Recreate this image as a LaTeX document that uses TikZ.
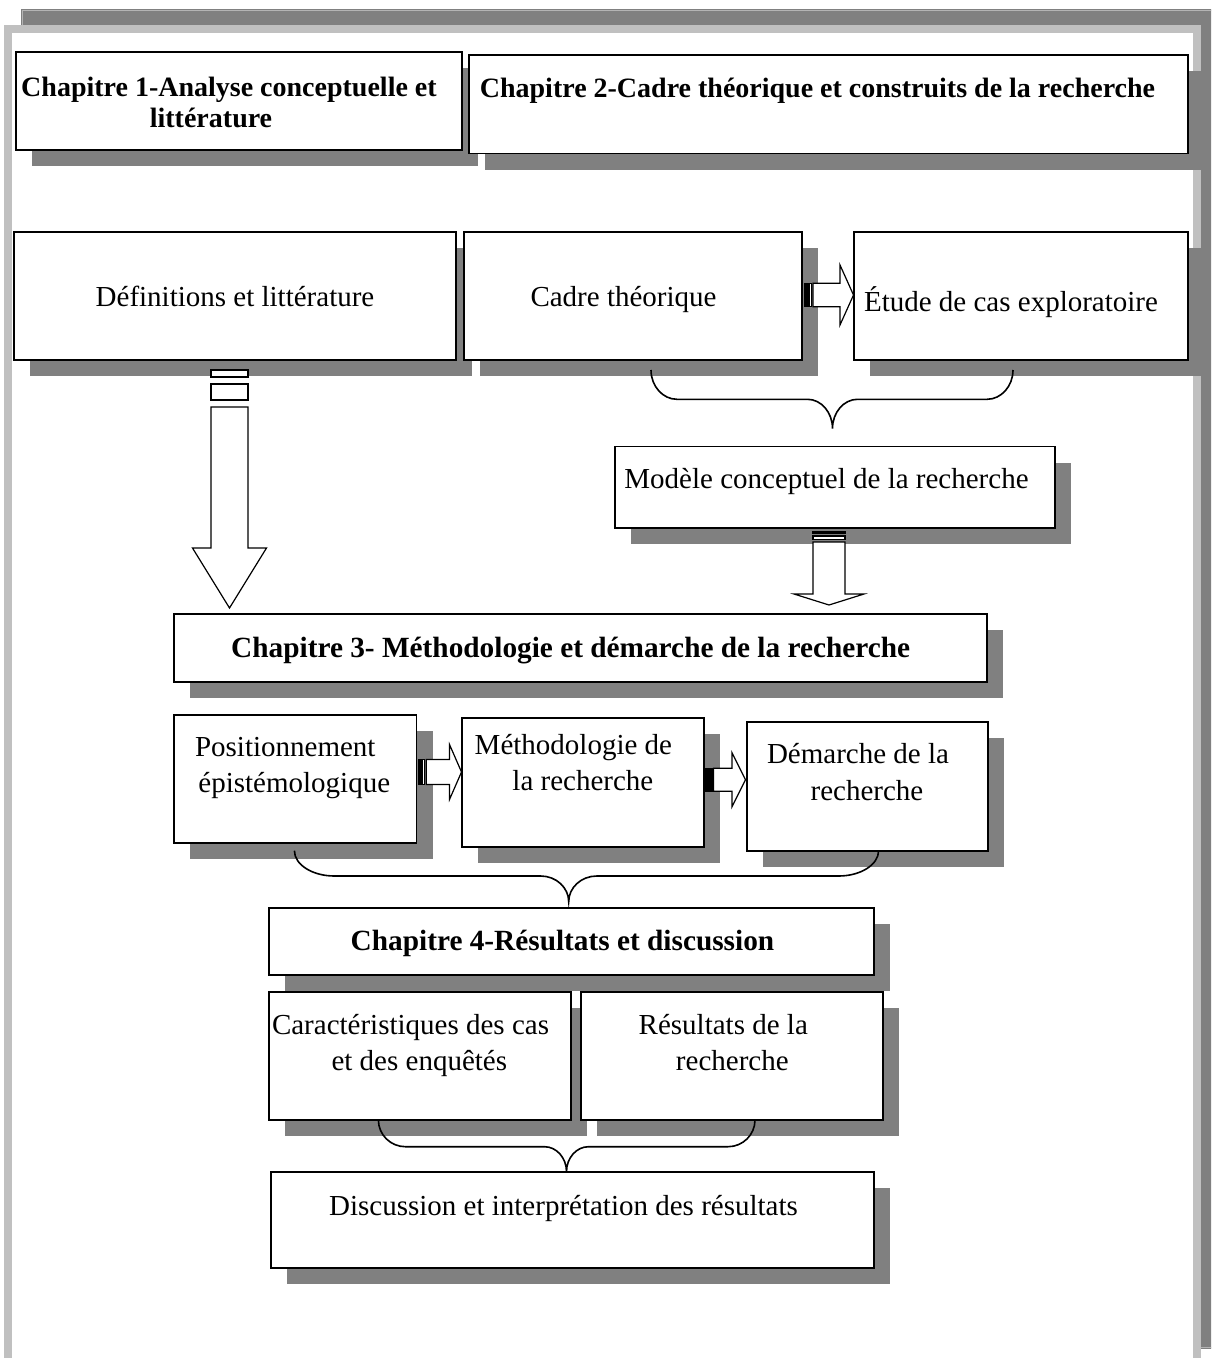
\documentclass[tikz,border=0pt]{standalone}
\usepackage{fontspec}
\setmainfont{Liberation Serif}
\definecolor{shadowgray}{HTML}{808080}
\definecolor{rim}{HTML}{C0C0C0}
\definecolor{rimline}{HTML}{B4B4B4}
\tikzset{
  boxst/.style={draw=black, line width=1.8pt, fill=white, inner sep=0pt, outer sep=0pt, anchor=north west},
  txt/.style={inner sep=0pt, anchor=base, font=\fontsize{29}{35}\selectfont},
  head/.style={inner sep=0pt, anchor=base, font=\fontsize{29.3}{35}\selectfont\bfseries},
  smallhead/.style={inner sep=0pt, anchor=base, font=\fontsize{28}{34}\selectfont\bfseries},
  blockarrow/.style={draw=black, line width=1.2pt, fill=white, line join=miter},
  stripe/.style={draw=black, line width=1.2pt, fill=black},
  bracepath/.style={draw=black, line width=1.6pt},
}
% box with its drop shadow: name, left, top, right, bottom
\newcommand\shadowbox[5]{%
  \fill[shadowgray] ({#2+16},{#3+16}) rectangle ({#4+16},{#5+16});
  \node[boxst, minimum width={#4-#2}, minimum height={#5-#3}] (#1) at (#2,#3) {};
}
% curly brace opening downwards: left, right, top, middle, tip x, tip y, corner width, tip width
\newcommand\groupbrace[8]{%
  \draw[bracepath] (#1,#3) .. controls (#1,{#3+0.55*(#4-#3)}) and ({#1+0.45*#7},#4) .. ({#1+#7},#4)
    -- ({#5-#8},#4) .. controls ({#5-0.45*#8},#4) and (#5,{#4+0.45*(#6-#4)}) .. (#5,#6)
    .. controls (#5,{#4+0.45*(#6-#4)}) and ({#5+0.45*#8},#4) .. ({#5+#8},#4)
    -- ({#2-#7},#4) .. controls ({#2-0.45*#7},#4) and (#2,{#3+0.55*(#4-#3)}) .. (#2,#3);
}
% striped block arrow pointing right: tail x, head base x, tip x, centre y, shaft half height, head half height
\newcommand\stripedright[6]{%
  \fill[stripe] (#1,{#4-#5}) rectangle ({#1+3},{#4+#5});
  \draw[blockarrow] ({#1+4.5},{#4-#5}) rectangle ({#1+6.5},{#4+#5});
  \draw[blockarrow] ({#1+8},{#4-#5}) -- (#2,{#4-#5}) -- (#2,{#4-#6}) -- (#3,#4)
    -- (#2,{#4+#6}) -- (#2,{#4+#5}) -- ({#1+8},{#4+#5}) -- cycle;
}
\begin{document}
\begin{tikzpicture}[x=1pt,y=-1pt]
\clip (0,0) rectangle (1211,1358);
\fill[white] (0,0) rectangle (1211,1358);

% page frame and its shadow
\fill[shadowgray] (21,9) rectangle (1221,1349);
\draw[rimline, line width=1pt] (22,10) rectangle (1219,1347);
\draw[rim, line width=8pt, fill=white] (7.5,29) rectangle (1196.5,1366);

% boxes
\shadowbox{ch1}{16}{52}{462}{150}
\shadowbox{ch2}{469}{55}{1188}{153.5}
\shadowbox{def}{14}{232}{456}{360}
\shadowbox{cadre}{464}{232}{802}{360}
\shadowbox{etude}{854}{232}{1188}{360}
\shadowbox{modele}{615}{446.5}{1055}{528}
\shadowbox{ch3}{174}{614}{987}{682}
\shadowbox{pos}{174}{715}{416.5}{843}
\shadowbox{meth}{462}{718}{704}{847}
\shadowbox{dem}{747}{722}{988}{851}
\shadowbox{ch4}{269}{908}{874}{975}
\shadowbox{car}{269}{992}{571}{1120}
\shadowbox{res}{581}{992}{883}{1120}
\shadowbox{disc}{271}{1172}{874}{1268}

% texts
\node[smallhead] (t1a) at (229,96.5) {Chapitre 1-Analyse conceptuelle et};
\node[smallhead] (t1b) at (211,127) {littérature};
\node[smallhead] (t2) at (817.5,97) {Chapitre 2-Cadre théorique et construits de la recherche};
\node[txt] (tdef) at (235,306.7) {Définitions et littérature};
\node[txt] (tcadre) at (623.5,306.7) {Cadre théorique};
\node[txt] (tetude) at (1011,311.7) {Étude de cas exploratoire};
\node[txt] (tmodele) at (826.5,488) {Modèle conceptuel de la recherche};
\node[head] (t3) at (570.7,657.3) {Chapitre 3- Méthodologie et démarche de la recherche};
\node[txt] (tpos1) at (285.3,756.7) {Positionnement};
\node[txt] (tpos2) at (294.3,792.7) {épistémologique};
\node[txt] (tmeth1) at (573.4,754) {Méthodologie de};
\node[txt] (tmeth2) at (582.9,790.7) {la recherche};
\node[txt] (tdem1) at (858,763.3) {Démarche de la};
\node[txt] (tdem2) at (867,800) {recherche};
\node[head] (t4) at (562.5,950.7) {Chapitre 4-Résultats et discussion};
\node[txt] (tcar1) at (410.5,1034) {Caractéristiques des cas};
\node[txt] (tcar2) at (419.3,1070) {et des enquêtés};
\node[txt] (tres1) at (723.3,1034) {Résultats de la};
\node[txt] (tres2) at (732.3,1070) {recherche};
\node[txt] (tdisc) at (563.5,1215) {Discussion et interprétation des résultats};

% braces grouping boxes
\groupbrace{651}{1013}{370}{399.3}{832.5}{428.5}{26}{25}
\groupbrace{294.4}{878.6}{850.7}{876}{568.7}{901.7}{40}{28}
\groupbrace{378.4}{755}{1120}{1146.7}{566.5}{1171.7}{27}{22}

% striped block arrows
\stripedright{805}{840}{853.5}{295}{11.7}{30}
\stripedright{418.3}{449.5}{461.5}{772}{12.5}{27.5}
\stripedright{705.5}{732}{745.5}{779.7}{11.5}{27}

% down arrow from the definitions box
\draw[blockarrow] (211,370) rectangle (248,377);
\draw[blockarrow] (211,384) rectangle (248,400);
\draw[blockarrow] (211,407) -- (211,548) -- (192.5,548) -- (229.5,608) -- (266.5,548)
  -- (248,548) -- (248,407) -- cycle;

% down arrow from the conceptual model box
\fill[stripe] (813,531.5) rectangle (845,533.5);
\draw[blockarrow] (813,536) rectangle (845,539.5);
\draw[blockarrow] (813,542) -- (813,594) -- (794,594) -- (829,605) -- (864,594)
  -- (845,594) -- (845,542) -- cycle;
\end{tikzpicture}
\end{document}
